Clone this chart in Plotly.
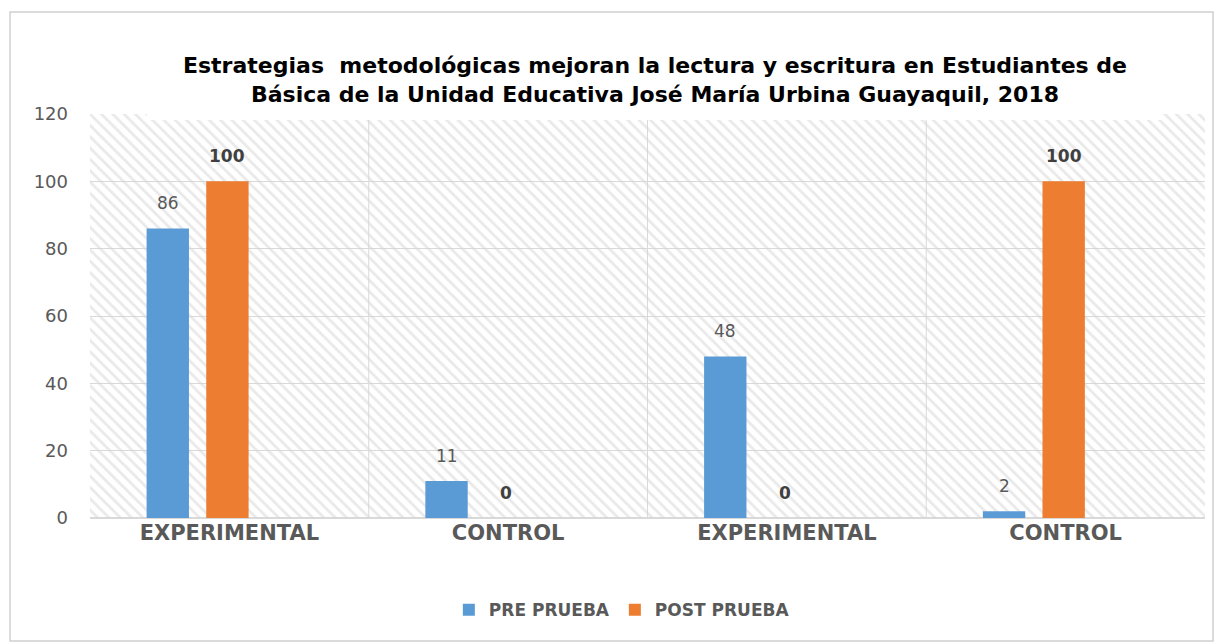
import plotly.graph_objects as go

categories = ["EXPERIMENTAL", "CONTROL", "EXPERIMENTAL", "CONTROL"]
pre_prueba = [86, 11, 48, 2]
post_prueba = [100, 0, 0, 100]
series_names = ["PRE PRUEBA", "POST PRUEBA"]
y_ticks = [0, 20, 40, 60, 80, 100, 120]
title_text = ("Estrategias  metodológicas mejoran la lectura y escritura en Estudiantes de<br>"
              "Básica de la Unidad Educativa José María Urbina Guayaquil, 2018")

x_pos = list(range(len(categories)))
y_max = max(y_ticks)

BLUE = "#5B9BD5"
ORANGE = "#ED7D31"
GRAY = "#595959"
BAR_W = 0.152
OFF_PRE = -0.297
OFF_POST = -0.083
FONT = "DejaVu Sans"

fig = go.Figure()

# hatched background per category
fig.add_trace(go.Bar(
    x=x_pos, y=[y_max] * len(x_pos), width=1, offset=-0.5,
    marker=dict(color="rgba(0,0,0,0)", line=dict(width=0),
                pattern=dict(shape="\\", fgcolor="#d4d4d4", bgcolor="rgba(0,0,0,0)",
                             size=8, solidity=0.35)),
    showlegend=False, hoverinfo="skip"))

fig.add_trace(go.Bar(x=x_pos, y=pre_prueba, name=series_names[0], width=BAR_W,
                     offset=OFF_PRE, marker=dict(color=BLUE, line=dict(width=0))))
fig.add_trace(go.Bar(x=x_pos, y=post_prueba, name=series_names[1], width=BAR_W,
                     offset=OFF_POST, marker=dict(color=ORANGE, line=dict(width=0))))

annotations = []
for xi, v in zip(x_pos, pre_prueba):
    annotations.append(dict(x=xi + OFF_PRE + BAR_W / 2, y=v, text=str(v), showarrow=False,
                            yshift=25, font=dict(family=FONT, size=17, color=GRAY)))
for xi, v in zip(x_pos, post_prueba):
    annotations.append(dict(x=xi + OFF_POST + BAR_W / 2, y=v, text="<b>%d</b>" % v, showarrow=False,
                            yshift=25, font=dict(family=FONT, size=17, color="#404040")))

shapes = []
for i in range(len(categories) - 1):
    shapes.append(dict(type="line", xref="x", yref="y", x0=i + 0.5, x1=i + 0.5, y0=0, y1=y_max,
                       line=dict(color="#d9d9d9", width=1), layer="below"))
# white box behind the title
shapes.append(dict(type="rect", xref="paper", yref="paper", x0=0.051, x1=0.962, y0=0.985, y1=1.2,
                   fillcolor="white", line=dict(width=0), layer="above"))
# outer chart border
shapes.append(dict(type="rect", xref="paper", yref="paper", x0=-0.0717, x1=1.0072, y0=-0.3045, y1=1.2525,
                   line=dict(color="#d0d0d0", width=1.5), fillcolor="rgba(0,0,0,0)"))

fig.update_layout(
    width=1222, height=642,
    margin=dict(l=90, r=17, t=114, b=124),
    paper_bgcolor="white", plot_bgcolor="white",
    barmode="overlay",
    title=dict(text=title_text, x=0.536, xanchor="center", xref="container",
               y=1 - 73 / 642, yanchor="middle", yref="container",
               font=dict(family=FONT, size=22, color="black", weight="bold")),
    xaxis=dict(range=[-0.5, len(categories) - 0.5], tickvals=x_pos, ticktext=categories,
               showgrid=False, zeroline=False, showline=False, ticks="",
               tickfont=dict(family=FONT, size=21, color=GRAY, weight="bold")),
    yaxis=dict(range=[0, y_max], tickvals=y_ticks, showgrid=True, gridcolor="#d9d9d9",
               zeroline=True, zerolinecolor="#d9d9d9", showline=False, ticks="",
               ticklabelstandoff=21,
               tickfont=dict(family=FONT, size=18, color=GRAY)),
    legend=dict(orientation="h", x=0.477, xanchor="center", y=-0.228, yanchor="middle",
                font=dict(family=FONT, size=17, color=GRAY, weight="bold"),
                itemwidth=30, traceorder="normal"),
    annotations=annotations, shapes=shapes,
)

fig.write_html("out.html", config={"displayModeBar": False},
               post_script="document.body.style.margin='0';")
